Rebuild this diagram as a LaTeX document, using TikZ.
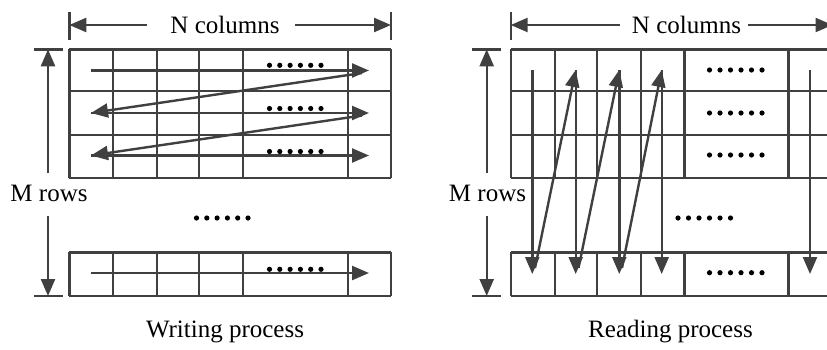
\documentclass[tikz,border=0pt]{standalone}
\usepackage{fontspec}
\setmainfont{Liberation Serif}
\usetikzlibrary{arrows.meta}
\definecolor{ln}{HTML}{404040}
\begin{document}
\begin{tikzpicture}[x=1pt,y=-1pt,
  gridline/.style={draw=ln,line width=2.4pt},
  flow/.style={draw=ln,line width=2.4pt,-{Triangle[length=17pt,width=14pt]}},
  dimline/.style={draw=ln,line width=2.4pt},
  lbl/.style={font=\fontsize{25}{30}\selectfont,inner sep=0pt,anchor=base},
  dot/.style={fill=black,circle,inner sep=0pt,minimum size=5.2pt}]
\useasboundingbox (0,0) rectangle (827,349);
\begin{scope}
\clip (0,0) rectangle (827,349);

% ================= LEFT: Writing process =================
% N columns
\coordinate (LNl) at (69.3,25); \coordinate (LNr) at (391,25);
\node[lbl] (LN) at (225,33.5) {N columns};
\draw[dimline] (69.3,12) -- (69.3,40);
\draw[dimline] (391,12) -- (391,40);
\draw[flow] (147,25) -- (LNl);
\draw[flow] (295,25) -- (LNr);
% M rows
\node[lbl] (LM) at (49,201.5) {M rows};
\draw[dimline] (34,49.3) -- (62.5,49.3);
\draw[dimline] (34,296) -- (62.5,296);
\coordinate (LMt) at (48,49.3); \coordinate (LMb) at (48,296);
\draw[flow] (48,173) -- (LMt);
\draw[flow] (48,216) -- (LMb);
% top grid
\foreach \y in {49.3,91,135,178} \draw[gridline] (69.3,\y) -- (391,\y);
\foreach \x in {69.3,113,157,199,243,348,391} \draw[gridline] (\x,49.3) -- (\x,178);
% bottom grid
\foreach \y in {252.3,296} \draw[gridline] (69.3,\y) -- (391,\y);
\foreach \x in {69.3,113,157,199,243,348,391} \draw[gridline] (\x,252.3) -- (\x,296);
% writing arrows
\coordinate (a1s) at (91,70.5); \coordinate (a1e) at (369,70.5);
\coordinate (a2s) at (91,113); \coordinate (a2e) at (369,113);
\coordinate (a3s) at (91,155.5); \coordinate (a3e) at (369,155.5);
\coordinate (a4s) at (91,273); \coordinate (a4e) at (369,273);
\draw[flow] (a1s) -- (a1e);
\draw[flow] (a2s) -- (a2e);
\draw[flow] (a3s) -- (a3e);
\draw[flow] (a4s) -- (a4e);
\draw[flow] (362,73) -- (a2s);
\draw[flow] (362,115.5) -- (a3s);
% dots
\foreach \y in {65.3,108.5,151.5,269.3}
  \foreach \i in {0,...,5} \node[dot] at (269.5+10.3*\i,\y) {};
\foreach \i in {0,...,5} \node[dot] at (196.5+10.3*\i,218) {};
\node[lbl] (LW) at (225,337) {Writing process};

% ================= RIGHT: Reading process =================
\node[lbl] (RN) at (686.5,33.5) {N columns};
\coordinate (RNl) at (510.7,25); \coordinate (RNr) at (832.5,25);
\draw[dimline] (510.7,12) -- (510.7,40);
\draw[flow] (620,25) -- (RNl);
\draw[flow] (748,25) -- (RNr);
% M rows
\node[lbl] (RM) at (487.5,201.5) {M rows};
\draw[dimline] (472,49.3) -- (500.5,49.3);
\draw[dimline] (472,296) -- (500.5,296);
\coordinate (RMt) at (486.7,49.3); \coordinate (RMb) at (486.7,296);
\draw[flow] (486.7,173) -- (RMt);
\draw[flow] (486.7,216) -- (RMb);
% top grid
\foreach \y in {49.3,91,135,178} \draw[gridline] (510.7,\y) -- (840,\y);
\foreach \x in {510.7,555,597,640.7,684.3,788.3,832.5} \draw[gridline] (\x,49.3) -- (\x,178);
% bottom grid
\foreach \y in {252.3,296} \draw[gridline] (510.7,\y) -- (840,\y);
\foreach \x in {510.7,555,597,640.7,684.3,788.3,832.5} \draw[gridline] (\x,252.3) -- (\x,296);
% reading arrows
\coordinate (c1t) at (532.3,70); \coordinate (c1b) at (532.3,274);
\coordinate (c2t) at (575.7,70); \coordinate (c2b) at (575.7,274);
\coordinate (c3t) at (619.3,70); \coordinate (c3b) at (619.3,274);
\coordinate (c4t) at (661.7,70); \coordinate (c4b) at (661.7,274);
\coordinate (c5t) at (810,70); \coordinate (c5b) at (810,274);
\draw[flow] (c1t) -- (c1b);
\draw[flow] (c2t) -- (c2b);
\draw[flow] (c3t) -- (c3b);
\draw[flow] (c4t) -- (c4b);
\draw[flow] (c5t) -- (c5b);
\draw[flow] (535,268) -- (c2t);
\draw[flow] (578.5,268) -- (c3t);
\draw[flow] (622,268) -- (c4t);
% dots
\foreach \y in {70,113,155,272.7}
  \foreach \i in {0,...,5} \node[dot] at (709.5+10.5*\i,\y) {};
\foreach \i in {0,...,5} \node[dot] at (678+10.5*\i,218) {};
\node[lbl] (RR) at (670.5,337) {Reading process};
\end{scope}
\end{tikzpicture}
\end{document}
